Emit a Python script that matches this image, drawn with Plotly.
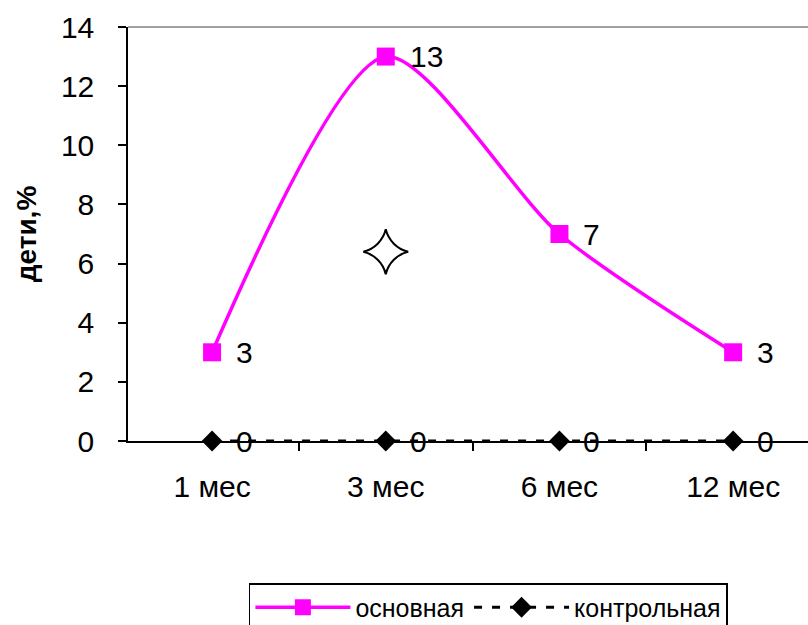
import plotly.graph_objects as go

# Periods of observation
periods = ["1 мес", "3 мес", "6 мес", "12 мес"]

# Share of children, %
main_group = [3, 13, 7, 3]
control_group = [0, 0, 0, 0]

# Significance marker
star_period = ["3 мес"]
star_value = [6.4]

FONT = "Arial, Liberation Sans, sans-serif"

fig = go.Figure()

fig.add_trace(go.Scatter(
    x=periods, y=main_group, name="основная",
    mode="lines+markers",
    line=dict(color="#FF00FF", width=3.5, shape="spline", smoothing=0.75),
    marker=dict(symbol="square", size=18, color="#FF00FF"),
))

fig.add_trace(go.Scatter(
    x=periods, y=control_group, name="контрольная",
    mode="lines+markers",
    line=dict(color="black", width=3, dash="8px,10px"),
    marker=dict(symbol="diamond", size=16, color="black"),
    cliponaxis=False,
))

fig.add_trace(go.Scatter(
    x=star_period, y=star_value, mode="markers", showlegend=False,
    marker=dict(symbol="star-diamond-open", size=32,
                color="black", line=dict(color="black", width=2)),
))

# Value labels to the right of each point
for series in (main_group, control_group):
    for p, v in zip(periods, series):
        fig.add_annotation(x=p, y=v, text=str(v), showarrow=False,
                           xanchor="left", yanchor="middle", xshift=22,
                           font=dict(family=FONT, size=30, color="black"))

# Thin grey frame line along the top of the plot area
fig.add_shape(type="line", xref="paper", yref="paper",
              x0=0, x1=1, y0=1, y1=1,
              line=dict(color="#A0A0A0", width=2))

fig.update_layout(
    width=808, height=625,
    margin=dict(l=128, r=0, t=27, b=184, autoexpand=False),
    paper_bgcolor="white", plot_bgcolor="white",
    font=dict(family=FONT, size=30, color="black"),
    showlegend=True,
    legend=dict(
        orientation="h", x=0.53, xanchor="center", y=-0.343, yanchor="top",
        bordercolor="black", borderwidth=1.5, bgcolor="white",
        font=dict(family=FONT, size=25, color="black"),
        itemwidth=95, tracegroupgap=0,
    ),
    xaxis=dict(
        type="category", range=[-0.484, 3.431],
        showline=True, linecolor="black", linewidth=1.5,
        ticks="outside", ticklen=8, tickcolor="black", tickwidth=1.5,
        tickson="boundaries", showgrid=False, zeroline=False,
        tickfont=dict(family=FONT, size=30), ticklabelstandoff=18,
    ),
    yaxis=dict(
        range=[0, 14], dtick=2,
        showline=True, linecolor="black", linewidth=1.5,
        ticks="outside", ticklen=8, tickcolor="black", tickwidth=1.5,
        showgrid=False, zeroline=False,
        tickfont=dict(family=FONT, size=30), ticklabelstandoff=18,
        title=dict(text="<b>дети,%</b>", font=dict(family=FONT, size=28),
                   standoff=16),
    ),
)

fig.write_html("out.html")
